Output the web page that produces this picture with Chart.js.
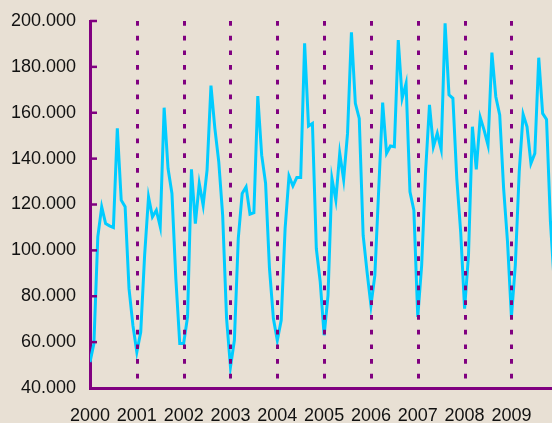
<!DOCTYPE html>
<html>
<head>
<meta charset="utf-8">
<script src="https://cdn.jsdelivr.net/npm/chart.js@4/dist/chart.umd.min.js"></script>
<style>
  html, body { margin: 0; padding: 0; background: #E8E0D4; overflow: hidden; }
  canvas { display: block; }
</style>
</head>
<body>
<canvas id="myChart" width="552" height="423"></canvas>
<script>
// year labels on the x axis (one per 12 months)
const years = ['2000', '2001', '2002', '2003', '2004', '2005', '2006', '2007', '2008', '2009'];

// monthly values
const values2000 = [51300, 59400, 105900, 119000, 111700, 110700, 110000, 153200, 121900, 119000, 83300, 67300];
const values2001 = [55700, 64400, 97900, 123300, 114600, 117500, 110300, 162200, 135700, 124800, 87700, 59400];
const values2002 = [59400, 71000, 135300, 111700, 129200, 119700, 135000, 171800, 153200, 138600, 115300, 70300];
const values2003 = [49200, 60800, 105200, 124800, 127700, 115800, 116400, 167300, 141500, 129200, 92000, 70300];
const values2004 = [60800, 69500, 109500, 132400, 128100, 131800, 131800, 190300, 154200, 155300, 100800, 86300];
const values2005 = [63000, 80400, 131300, 121900, 142300, 130900, 151000, 195100, 164100, 157500, 106600, 90600];
const values2006 = [76000, 89100, 127000, 164400, 142300, 145500, 145200, 191700, 166300, 172800, 125500, 117500];
const values2007 = [71000, 93500, 134300, 163400, 145200, 151000, 144000, 199000, 167800, 166300, 131300, 108000];
const values2008 = [74600, 97900, 153900, 135300, 158000, 152400, 145900, 186200, 167000, 159000, 127000, 103700];
const values2009 = [71000, 93500, 134300, 159300, 153900, 137900, 142300, 184000, 159700, 157100, 112400, 85000];

const yTicks = [40000, 60000, 80000, 100000, 120000, 140000, 160000, 180000, 200000];

const purple = '#800080';

function formatThousands(v) {
    return String(v).replace(/\B(?=(\d{3})+(?!\d))/g, '.');
}

const allValues = [].concat(values2000, values2001, values2002, values2003, values2004,
    values2005, values2006, values2007, values2008, values2009);
const points = allValues.map(function (v, i) { return { x: i, y: v }; });

// dotted year lines and inward y tick marks, drawn over the line
const overlay = {
    id: 'overlay',
    afterDatasetsDraw(chart) {
        const ctx = chart.ctx;
        const area = chart.chartArea;
        const xs = chart.scales.x;
        const ys = chart.scales.y;
        ctx.save();
        ctx.strokeStyle = purple;
        ctx.lineWidth = 3;
        ctx.setLineDash([4.7, 10]);
        for (let k = 1; k < years.length; k++) {
            const px = Math.round(xs.getPixelForValue(k * 12)) + 0.5;
            ctx.beginPath();
            ctx.moveTo(px, area.top);
            ctx.lineTo(px, area.bottom);
            ctx.stroke();
        }
        ctx.setLineDash([]);
        ctx.lineWidth = 2.5;
        for (let k = 1; k < yTicks.length; k++) {
            const py = ys.getPixelForValue(yTicks[k]);
            ctx.beginPath();
            ctx.moveTo(area.left, py);
            ctx.lineTo(area.left + 7, py);
            ctx.stroke();
        }
        ctx.restore();
    }
};

const ctx = document.getElementById('myChart').getContext('2d');
const myChart = new Chart(ctx, {
    type: 'line',
    data: {
        datasets: [{
            data: points,
            borderColor: '#00CCFF',
            borderWidth: 3,
            pointRadius: 0,
            tension: 0,
            fill: false
        }]
    },
    options: {
        responsive: false,
        animation: false,
        devicePixelRatio: 1,
        layout: { padding: { top: 21, right: 0, bottom: 0, left: 0 } },
        plugins: {
            legend: { display: false },
            tooltip: { enabled: false }
        },
        scales: {
            x: {
                type: 'linear',
                min: 0,
                max: 118.4,
                grid: { display: false, drawTicks: false },
                border: { display: true, color: purple, width: 3 },
                afterBuildTicks: function (scale) {
                    scale.ticks = years.map(function (y, k) { return { value: k * 12 }; });
                },
                afterFit: function (scale) {
                    scale.height = 35;
                    scale.paddingLeft = 0;
                    scale.paddingRight = 0;
                },
                ticks: {
                    autoSkip: false,
                    maxRotation: 0,
                    padding: 17,
                    color: '#111',
                    font: { family: 'Liberation Sans, Arial, sans-serif', size: 18 },
                    callback: function (v) { return years[Math.round(v / 12)]; }
                }
            },
            y: {
                min: 40000,
                max: 200000,
                grid: { display: false, drawTicks: false },
                border: { display: true, color: purple, width: 3 },
                afterBuildTicks: function (scale) {
                    scale.ticks = yTicks.map(function (v) { return { value: v }; });
                },
                afterFit: function (scale) {
                    scale.width = 90;
                    scale.paddingTop = 0;
                    scale.paddingBottom = 0;
                },
                ticks: {
                    padding: 14,
                    color: '#111',
                    font: { family: 'Liberation Sans, Arial, sans-serif', size: 18 },
                    callback: function (v) { return formatThousands(v); }
                }
            }
        }
    },
    plugins: [overlay]
});
</script>
</body>
</html>
